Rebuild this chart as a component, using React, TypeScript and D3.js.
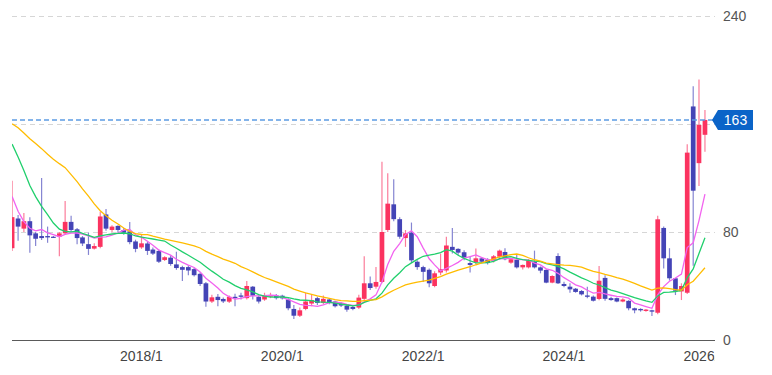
import React from "react";
import * as d3 from "d3";

// Monthly candles, 2016/3 .. 2026/1
const firstMonth = new Date(2016, 2, 1);

const opens = [
  68, 90, 82.5, 88, 79, 77, 77, 76.5, 76.5, 79,
  87.5, 82, 76, 71, 67.7, 69, 93, 81.5, 84.5, 81.5,
  80.5, 73, 68.6, 71.5, 67, 66, 59.3, 61, 56, 54,
  54, 52.5, 49, 42, 28.5, 32, 30.4, 28.4, 32, 33,
  31, 39.5, 32, 30, 32.5, 33, 32.8, 30, 23, 18,
  23, 27, 31, 27.5, 30, 28.5, 27, 25.5, 24.5, 24,
  30.5, 42, 39.5, 43, 81.5, 100.5, 89.5, 75.5, 79.5, 58,
  54, 52, 40, 50, 51.5, 69, 67.5, 65, 57, 57.5,
  60.5, 59.5, 58.5, 61.7, 65.2, 57.3, 59.3, 53.8, 53.8, 58,
  53.8, 51.9, 42.5, 62.2, 41.5, 39.5, 38, 36.3, 33, 32.1,
  30.4, 46, 31, 31, 28.5, 29, 23.5, 23, 21.5, 22,
  20.2, 83, 60.5, 45.7, 36, 35, 173, 131, 152,
];
const highs = [
  118, 92.6, 94, 91, 80, 120, 84, 77, 80, 103,
  92, 83, 77, 79.5, 71.6, 95, 97, 85, 85, 83,
  87.5, 74.3, 78, 72.8, 68.6, 67, 62, 62.7, 65.4, 55,
  55.3, 53.5, 50, 43, 33.5, 34, 31.5, 33, 34.3, 35,
  43.7, 40, 33, 35, 35, 34, 33.5, 31, 26, 24,
  35, 34, 32, 33, 31, 29, 28, 26.5, 25.5, 33.5,
  62, 47, 54, 132, 123.5, 119, 91, 81.5, 87, 59,
  55, 53, 51, 64, 76.5, 83, 68, 66.5, 62, 67.7,
  61.5, 60.5, 63, 67, 68, 60.5, 63, 56, 60, 66.2,
  54.5, 52.5, 48, 64.2, 43.2, 42, 38.5, 37, 39.5, 33,
  54.8, 48, 32, 31.5, 31, 29.5, 24, 23.5, 23, 22.5,
  92, 84, 68, 46, 42, 145, 188, 193, 170.4,
];
const lows = [
  66, 73.6, 80, 64.7, 69.6, 74, 72, 75.5, 62, 78,
  80, 71, 69.6, 63, 67, 68, 81, 80, 80, 78,
  71, 65, 67.5, 63, 63, 57, 58.5, 55, 52, 43.7,
  48, 47, 40, 24.7, 27.5, 25, 27.5, 27.5, 25, 30,
  30, 30, 27, 29, 31, 30, 30, 22, 15.6, 17,
  22, 25, 26, 26.5, 26.5, 24, 24.5, 21, 22, 23,
  29, 37, 38, 42, 80, 88, 75, 69, 57, 52,
  43, 39, 39, 48, 50, 64, 63, 59, 50, 56,
  57, 56, 57.5, 60, 59, 56.5, 53, 52.3, 53, 53,
  49.4, 42, 42, 41.5, 39, 35, 35, 33, 30.9, 28.5,
  29.5, 29, 29, 28, 28, 22, 19.8, 21, 21, 17.8,
  19, 53, 44, 33.3, 29.6, 34, 55, 114, 139.5,
];
const closes = [
  91, 84, 88, 77.5, 75, 75.5, 76, 76, 79, 87.5,
  81.5, 75.5, 71.5, 67.5, 69.6, 91.5, 82.5, 84, 81.5, 79.5,
  72.5, 67.5, 71.6, 66, 64, 58, 61.3, 56.3, 53.3, 52,
  51.5, 48, 41.5, 28.5, 31.6, 29.6, 28.6, 32, 31, 32,
  40, 32.8, 28.5, 33, 33, 31, 30.9, 23.5, 18, 22,
  28.5, 29.6, 27.5, 30.5, 27.5, 25, 25.5, 22.5, 23, 31.4,
  42, 38.5, 43, 80, 101, 89.5, 76.5, 79, 59, 54,
  50.5, 42, 49.4, 52.4, 70, 66.7, 64.7, 61, 55.6, 60.5,
  58, 57, 62, 66.2, 59.8, 59.8, 53.8, 55.6, 59.3, 53.8,
  51.4, 42.5, 47.4, 42, 40, 37.5, 35.6, 33.8, 32, 29.1,
  43.9, 30.5, 29.6, 28.5, 30, 23.5, 22, 22, 22.5, 21,
  89.4, 60.5, 45.7, 36.5, 40, 138.8, 110.6, 159.3, 163,
];
// closes of the 23 months before the visible window (only feed the moving averages)
const priorCloses = [
  155, 180, 180, 161, 165, 177, 165, 156, 158, 205, 200, 200,
  198, 208, 212, 173, 162, 150, 150, 134, 107, 86, 70,
];

const maPeriods = [6, 12, 24];
const maColors = ["#f263ef", "#20cf6c", "#ffbc00"];

const yTickValues = [0, 80, 160, 240];
const yTickLabels = ["0", "80", "", "240"];
const xTickYears = [2018, 2020, 2022, 2024, 2026];
const xTickLabels = ["2018/1", "2020/1", "2022/1", "2024/1", "2026/1"];
const lastPrice = 163;

const UP_BODY = "#fb3360";
const UP_WICK = "#fb7d9a";
const DOWN_BODY = "#4444b6";
const DOWN_WICK = "#8585d2";

export default function App() {
  const W = 772;
  const H = 375;
  const left = 12;
  const right = 715;
  const months = d3.timeMonth.range(firstMonth, d3.timeMonth.offset(firstMonth, closes.length));

  const x = d3
    .scaleTime()
    .domain([new Date(2018, 0, 1), new Date(2024, 0, 1)])
    .range([141.5, 564]);
  const y = d3.scaleLinear().domain([0, 240]).range([340, 16]);

  const bodyW = 4.7;
  const all = priorCloses.concat(closes);
  const off = priorCloses.length;
  const maSeries = maPeriods.map((p) =>
    closes.map((_, i) => {
      const end = i + off;
      return d3.mean(all.slice(end - p + 1, end + 1)) as number;
    })
  );
  const line = d3
    .line<number>()
    .x((_, i) => x(months[i]))
    .y((v) => y(v))
    .curve(d3.curveLinear);

  const yp = y(lastPrice);
  const font = "'Liberation Sans', Arial, sans-serif";

  return (
    <svg
      width={W}
      height={H}
      style={{ position: "absolute", left: 0, top: 0, background: "#fff" }}
      fontFamily={font}
    >
      <defs>
        <clipPath id="plotClip">
          <rect x={left} y={0} width={right - left} height={341} />
        </clipPath>
        <clipPath id="xLabClip">
          <rect x={0} y={341} width={714.5} height={34} />
        </clipPath>
      </defs>

      {/* grid */}
      {yTickValues
        .filter((v) => v > 0)
        .map((v) => (
          <line
            key={"g" + v}
            x1={left}
            x2={right}
            y1={Math.round(y(v)) + 0.5}
            y2={Math.round(y(v)) + 0.5}
            stroke="#d6d6d6"
            strokeDasharray="5,4"
          />
        ))}

      <g clipPath="url(#plotClip)">
        {/* candles */}
        {closes.map((c, i) => {
          const o = opens[i];
          const up = c >= o;
          const cx = x(months[i]);
          const top = y(Math.max(o, c));
          const bot = y(Math.min(o, c));
          return (
            <g key={"c" + i}>
              <line
                x1={cx}
                x2={cx}
                y1={y(highs[i])}
                y2={y(lows[i])}
                stroke={up ? UP_WICK : DOWN_WICK}
                strokeWidth={1.2}
              />
              <rect
                x={cx - bodyW / 2}
                y={top}
                width={bodyW}
                height={Math.max(1.2, bot - top)}
                fill={up ? UP_BODY : DOWN_BODY}
              />
            </g>
          );
        })}

        {/* moving averages */}
        {maSeries.map((s, k) => (
          <path
            key={"ma" + k}
            d={line(s) || ""}
            fill="none"
            stroke={maColors[k]}
            strokeWidth={1.3}
          />
        ))}
      </g>

      {/* last price line */}
      <line
        x1={left}
        x2={713}
        y1={yp}
        y2={yp}
        stroke="#5c9ce3"
        strokeWidth={1.4}
        strokeDasharray="5,3"
      />

      {/* x axis */}
      <line x1={left} x2={right} y1={340.5} y2={340.5} stroke="#5a5a5a" strokeWidth={1} />
      <g clipPath="url(#xLabClip)">
        {xTickYears.map((yr, i) => (
          <text
            key={"xt" + yr}
            x={x(new Date(yr, 0, 1))}
            y={361}
            textAnchor="middle"
            fontSize={14}
            fill="#444"
          >
            {xTickLabels[i]}
          </text>
        ))}
      </g>

      {/* y labels */}
      {yTickValues.map((v, i) => (
        <text
          key={"yt" + v}
          x={723}
          y={y(v)}
          dy="0.35em"
          fontSize={14}
          fill="#555"
        >
          {yTickLabels[i]}
        </text>
      ))}

      {/* price tag */}
      <path
        d={`M712,${yp} L718,${yp - 10} L753,${yp - 10} L753,${yp + 10} L718,${yp + 10} Z`}
        fill="#0b64c8"
      />
      <text x={735.5} y={yp} dy="0.36em" textAnchor="middle" fontSize={14} fill="#fff">
        {lastPrice}
      </text>
    </svg>
  );
}
